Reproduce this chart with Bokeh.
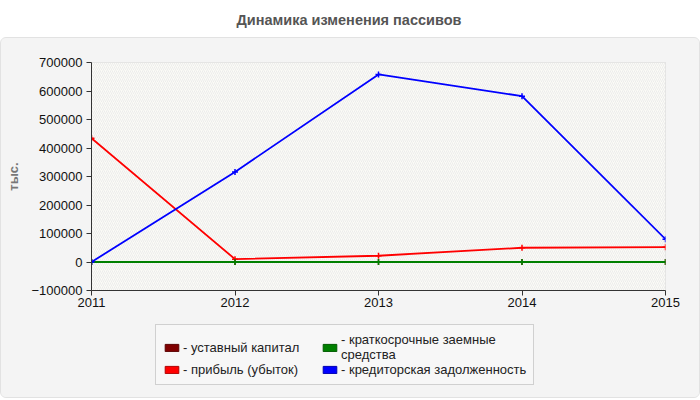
from bokeh.plotting import figure
from bokeh.models import (ColumnDataSource, Range1d, FixedTicker, BasicTickFormatter,
                          Legend, LegendItem, BoxAnnotation, Div)
from bokeh.layouts import column
from bokeh.embed import file_html
from bokeh.resources import INLINE

# data (тыс.)
years = [2011, 2012, 2013, 2014, 2015]
ustavny_kapital = [100, 100, 100, 100, 100]
pribyl = [434000, 10000, 22000, 50000, 52000]
kratkosrochnye = [0, 0, 0, 0, 0]
kreditorskaya = [0, 316000, 658000, 582000, 80000]
y_ticks = [-100000, 0, 100000, 200000, 300000, 400000, 500000, 600000, 700000]

series = [
    ("- уставный капитал", ustavny_kapital, "#800000", "#5a0000"),
    ("- прибыль (убыток)", pribyl, "#ff0000", "#b00000"),
    ("- краткосрочные заемные\nсредства", kratkosrochnye, "#008000", "#005a00"),
    ("- кредиторская задолженность", kreditorskaya, "#0000ff", "#0000b0"),
]

font = "Liberation Sans"
panel_bg = "#f4f4f4"

title = Div(text="<b>Динамика изменения пассивов</b>", width=698, height=37,
            margin=(0, 0, 0, 0),
            styles={"text-align": "center", "font-family": font, "font-size": "14.5px",
                    "color": "#555555", "line-height": "40px", "background": "#ffffff"})

p = figure(width=698, height=280, output_backend="svg", toolbar_location=None,
           x_range=Range1d(2011, 2015), y_range=Range1d(-100000, 700000),
           min_border_left=90, min_border_right=34, min_border_top=24, min_border_bottom=28)
p.border_fill_color = panel_bg
p.background_fill_color = "#fbfbf6"
p.outline_line_color = "#dddddd"

p.add_layout(BoxAnnotation(fill_color="#fbfbf6", fill_alpha=1.0, line_color=None,
                           hatch_pattern="right_diagonal_line", hatch_color="#ececec",
                           hatch_scale=4, hatch_weight=1, level="underlay"))

p.xaxis.ticker = FixedTicker(ticks=years)
p.yaxis.ticker = FixedTicker(ticks=y_ticks)
p.yaxis.formatter = BasicTickFormatter(use_scientific=False)
for ax in (p.xaxis[0], p.yaxis[0]):
    ax.axis_line_color = "#333333"
    ax.major_tick_line_color = "#333333"
    ax.major_tick_out = 5
    ax.major_tick_in = 0
    ax.minor_tick_line_color = None
    ax.major_label_text_font = font
    ax.major_label_text_font_size = "13px"
    ax.major_label_text_color = "#111111"
p.xaxis.major_label_standoff = 2
p.yaxis.major_label_standoff = 4
p.yaxis.axis_label = "тыс."
p.yaxis.axis_label_text_font = font
p.yaxis.axis_label_text_font_size = "13px"
p.yaxis.axis_label_text_font_style = "bold"
p.yaxis.axis_label_text_color = "#777777"
p.yaxis.axis_label_standoff = 8

p.grid.grid_line_color = "#dddddd"
p.grid.grid_line_dash = "5 3"

# separate strip below the chart that only carries the legend
leg_fig = figure(width=698, height=79, output_backend="svg", toolbar_location=None,
                 x_range=Range1d(0, 1), y_range=Range1d(0, 1), min_border=0)
leg_fig.axis.visible = False
leg_fig.grid.visible = False
leg_fig.outline_line_color = None
leg_fig.background_fill_color = panel_bg
leg_fig.border_fill_color = panel_bg

items = []
for label, vals, color, edge in series:
    src = ColumnDataSource(dict(x=years, y=vals))
    p.line("x", "y", source=src, line_color=color, line_width=1.8)
    p.scatter("x", "y", source=src, marker="cross", size=6, line_color=color, line_width=1.5)
    # swatch renderer kept outside the strip's visible range, only used by the legend
    box = leg_fig.quad(left=[5], right=[6], top=[6], bottom=[5],
                       fill_color=color, line_color=edge)
    items.append(LegendItem(label=label, renderers=[box]))

legend = Legend(items=items, nrows=2, location=(64, 12),
                glyph_width=17, glyph_height=9, label_text_font=font,
                label_text_font_size="13px", label_text_color="#222222",
                label_standoff=3, label_width=138, spacing=0, padding=7, margin=0,
                border_line_color="#aaaaaa", background_fill_color="#f7f7f7",
                background_fill_alpha=1.0)
leg_fig.add_layout(legend, "center")

panel = column(p, leg_fig, spacing=0,
               styles={"border": "1px solid #e2e2e2", "border-radius": "6px",
                       "background": panel_bg, "overflow": "hidden"})
layout = column(title, panel, spacing=0)
open("out.html", "w").write(file_html(layout, INLINE))
